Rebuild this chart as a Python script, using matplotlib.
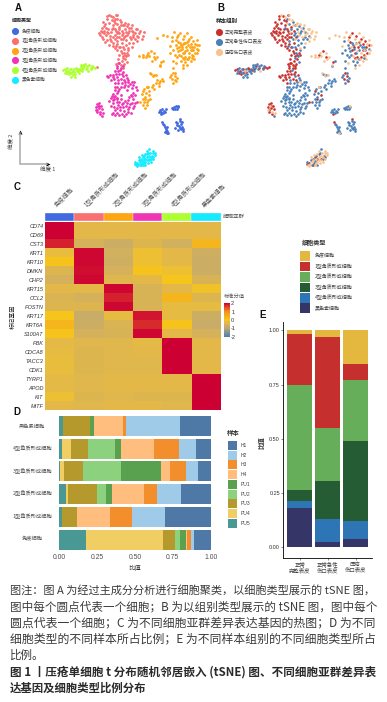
"""Composite figure: tSNE panels, marker heatmap, sample and cell-type proportions, caption."""

import matplotlib
matplotlib.use("Agg")
import matplotlib.pyplot as plt
import numpy as np
from matplotlib.colors import LinearSegmentedColormap
from matplotlib.patches import Rectangle

plt.rcParams["font.family"] = ["Noto Sans CJK SC", "DejaVu Sans"]

W, H = 387, 702
LATIN = ["Liberation Sans", "Noto Sans CJK SC"]

CELL_TYPES = ["免疫细胞", "1型角质形成细胞", "2型角质形成细胞", "3型角质形成细胞", "4型角质形成细胞", "黑色素细胞"]
CLUSTER_COLORS = ["#4169E1", "#FA7070", "#FFA50F", "#F035B4", "#ADFF2F", "#14EBFF"]
GROUPS = ["正常完整表皮", "正常急性伤口表皮", "压疮伤口表皮"]
GROUP_COLORS = ["#C9302C", "#4A80B8", "#F9C28C"]

# tSNE coordinates, one list per cell type and sample group
immune_ctrl = [(482, 343), (487, 366), (540, 357)]
immune_acute = [(480, 330), (486, 326), (492, 332), (497, 328), (484, 336), (490, 338), (516, 323), (522, 320),
                (528, 318), (534, 322), (524, 326), (490, 372), (494, 380), (498, 386), (502, 392), (505, 400),
                (497, 392), (492, 376), (527, 366), (531, 376), (526, 385), (541, 362), (543, 372), (546, 380),
                (550, 388), (540, 384), (533, 390), (478, 336), (494, 336), (520, 326), (530, 326), (495, 396),
                (500, 382), (530, 368), (545, 366), (548, 392), (536, 378), (544, 388)]
immune_ulcer = [(535, 318), (500, 398)]

k1_ctrl = [(322, 48), (335, 60), (348, 46), (316, 72), (328, 70), (340, 74), (306, 97), (300, 105), (312, 92),
           (318, 106), (324, 88), (332, 96), (338, 110), (345, 86), (352, 100), (358, 82), (310, 118), (322, 120),
           (334, 124), (346, 118), (358, 112), (328, 135), (340, 138), (352, 132), (365, 92), (372, 112), (366, 128),
           (318, 84), (306, 84), (344, 104), (352, 150), (362, 152), (372, 148), (358, 165), (368, 168), (380, 158),
           (366, 182), (376, 176), (354, 178), (362, 196), (372, 192), (385, 165), (330, 108), (312, 100), (290, 200),
           (310, 65), (320, 58), (333, 48), (342, 62), (302, 92), (296, 100), (305, 110), (315, 125), (325, 100),
           (335, 88), (348, 92), (358, 100), (350, 110), (340, 128), (330, 118), (320, 95), (312, 78), (345, 145),
           (358, 140), (366, 158), (374, 165), (355, 190), (348, 192), (368, 205)]
k1_acute = [(352, 72), (362, 66), (375, 88), (384, 100), (392, 84), (398, 112), (378, 120), (365, 105), (350, 124),
            (400, 96), (388, 128), (370, 140), (378, 135), (360, 140), (372, 160), (380, 185), (345, 58), (338, 84),
            (410, 108), (395, 140), (358, 88), (368, 76), (380, 78), (388, 92), (370, 100), (392, 118), (404, 118),
            (375, 108), (362, 118), (348, 138), (385, 150), (378, 168), (368, 175)]
k1_ulcer = [(328, 45), (340, 52), (350, 44), (360, 60), (372, 75), (385, 72), (395, 76), (408, 88), (420, 92),
            (432, 96), (405, 100), (415, 110), (425, 118), (410, 122), (390, 112), (380, 104), (400, 130), (385, 145),
            (368, 118), (345, 70), (355, 96), (378, 95), (395, 92), (418, 100), (428, 108), (412, 88), (398, 104),
            (388, 85), (375, 68), (362, 74), (352, 58)]

k2_ctrl = [(540, 100), (552, 108), (566, 116), (578, 124), (530, 112), (558, 142), (572, 150), (585, 158), (548, 160),
           (566, 170), (440, 164), (452, 152), (462, 172), (482, 186), (520, 218), (526, 228), (516, 236), (528, 242),
           (436, 296), (446, 284), (430, 272), (545, 140), (560, 125), (572, 132), (582, 140), (535, 125), (590, 135),
           (555, 170), (540, 150), (575, 165), (548, 175)]
k2_acute = [(516, 124), (528, 136), (540, 128), (552, 130), (564, 134), (520, 150), (534, 152), (546, 146), (576, 140),
            (590, 146), (510, 160), (530, 172), (542, 182), (556, 186), (518, 182), (488, 182), (480, 198), (472, 240),
            (480, 244), (490, 242), (468, 250), (476, 258), (462, 266), (452, 222), (462, 226), (524, 218), (530, 234),
            (514, 226), (518, 248), (440, 260), (432, 268), (426, 282), (438, 278), (448, 272), (428, 298), (442, 306),
            (430, 316), (436, 324), (450, 296), (420, 306), (456, 262), (530, 145), (542, 135), (552, 158), (562, 150),
            (570, 142), (580, 150), (525, 165), (538, 165), (560, 178), (548, 195), (575, 175), (520, 205), (525, 240),
            (510, 232), (478, 250), (485, 236), (460, 256), (445, 300), (435, 290), (440, 315), (432, 305), (445, 262)]
k2_ulcer = [(522, 96), (534, 104), (548, 118), (560, 100), (574, 110), (590, 120), (598, 136), (594, 150), (580, 168),
            (572, 182), (562, 196), (550, 204), (568, 158), (556, 152), (544, 168), (528, 190), (510, 138), (418, 168),
            (428, 164), (438, 172), (448, 168), (456, 182), (466, 178), (462, 160), (480, 196), (450, 220), (458, 228),
            (468, 224), (490, 105), (502, 108), (470, 115), (442, 260), (555, 130), (565, 124), (548, 132), (585, 132),
            (590, 160), (575, 150), (565, 178), (538, 140), (552, 178), (582, 178), (430, 170), (445, 160), (470, 170),
            (515, 110), (528, 120)]

k3_ctrl = [(352, 198), (362, 205), (345, 212), (356, 222), (338, 225), (325, 232), (332, 240), (342, 238), (370, 215),
           (378, 225), (350, 232), (362, 236), (372, 240), (322, 228), (345, 248), (290, 312), (298, 310), (303, 318),
           (288, 322), (296, 325), (306, 328), (292, 335), (412, 305), (358, 190), (368, 198), (350, 205), (355, 212),
           (365, 222), (340, 232), (330, 225), (348, 222), (296, 318), (290, 330), (300, 342)]
k3_acute = [(360, 210), (355, 250), (365, 250), (375, 245), (385, 240), (395, 245), (403, 245), (352, 262), (345, 270),
            (338, 282), (332, 295), (345, 288), (355, 272), (362, 262), (372, 262), (385, 258), (395, 265), (400, 278),
            (392, 285), (398, 298), (385, 300), (375, 302), (362, 298), (350, 305), (340, 310), (355, 315), (365, 312),
            (378, 318), (390, 312), (405, 310), (398, 325), (385, 328), (372, 332), (360, 330), (350, 340), (335, 342),
            (345, 345), (365, 342), (378, 342), (392, 338), (352, 325), (362, 285), (408, 262), (338, 300), (305, 347),
            (380, 270), (350, 295), (370, 322), (342, 298), (388, 322), (358, 268), (350, 280), (342, 292), (368, 308),
            (380, 308), (395, 308), (402, 318), (388, 292), (396, 288), (360, 320), (345, 330), (338, 338), (358, 345),
            (372, 348), (385, 335), (405, 285), (410, 270), (345, 262), (375, 255), (390, 252), (355, 240), (368, 228),
            (380, 235), (400, 255), (352, 298), (358, 305), (335, 288), (328, 302), (332, 318), (342, 320)]
k3_ulcer = [(300, 335), (308, 340), (288, 330), (295, 318), (385, 246)]

k4_ctrl = [(195, 208), (205, 214), (214, 206), (222, 216), (228, 204), (240, 210), (252, 198), (262, 204), (278, 200),
           (285, 203), (208, 222), (200, 218), (216, 216), (232, 208), (246, 206), (272, 204), (190, 210)]
k4_acute = [(198, 214), (210, 208), (218, 226), (226, 222), (234, 212), (242, 202), (248, 196), (256, 192), (258, 208),
            (268, 196), (272, 208), (225, 232), (236, 218), (200, 205), (246, 214), (206, 215), (214, 220), (230, 214),
            (238, 206), (250, 204), (262, 198), (275, 198), (212, 230), (222, 208), (196, 218), (244, 196)]
k4_ulcer = [(220, 212), (264, 214)]

mel_ctrl = [(410, 490), (422, 494), (446, 478), (430, 470), (404, 492), (436, 476)]
mel_acute = [(404, 486), (416, 480), (428, 484), (436, 496), (440, 462), (448, 448), (456, 468), (424, 476), (420, 496),
             (444, 460), (452, 476), (460, 470), (432, 468), (426, 490)]
mel_ulcer = [(412, 498), (420, 486), (432, 478), (442, 472), (450, 458), (458, 460), (466, 466), (460, 476), (452, 486),
             (444, 490), (436, 486), (428, 494), (418, 472), (440, 454), (448, 468), (464, 458), (426, 464), (436, 462),
             (422, 480), (432, 490), (446, 480), (454, 470), (458, 452), (440, 480), (414, 492), (408, 494)]

TSNE_BY_TYPE = [
    [immune_ctrl, immune_acute, immune_ulcer],
    [k1_ctrl, k1_acute, k1_ulcer],
    [k2_ctrl, k2_acute, k2_ulcer],
    [k3_ctrl, k3_acute, k3_ulcer],
    [k4_ctrl, k4_acute, k4_ulcer],
    [mel_ctrl, mel_acute, mel_ulcer],
]

# heatmap
GENES = ["CD74", "CD69", "CST3", "KRT1", "KRT10", "DMKN", "CHP2", "KRT15", "CCL2", "POSTN", "KRT17", "KRT6A", "S100A7",
         "PBK", "CDCA8", "TACC3", "CDK1", "TYRP1", "APOD", "KIT", "MITF"]
heat_values = [
    [2.0, -.3, -.3, -.3, -.3, -.3],
    [2.0, -.3, -.3, -.3, -.3, -.3],
    [1.75, -.55, -.7, -.4, -.6, .3],
    [-.15, 1.95, -.6, -.1, -.3, -.65],
    [.05, 1.95, -.65, -.1, -.3, -.7],
    [-.4, 1.9, -.55, .05, -.1, -.7],
    [-.55, 1.95, -.35, -.3, 0, -.5],
    [-.3, -.3, 1.95, -.5, -.3, -.05],
    [-.45, -.55, 1.75, -.5, .3, -.4],
    [-.4, -.4, 1.95, -.5, -.2, -.2],
    [0, -.75, -.2, 1.85, -.2, -.7],
    [.3, -.7, -.45, 1.7, .05, -.75],
    [.05, -.55, -.5, 1.95, -.3, -.55],
    [-.25, -.35, -.35, -.25, 2.0, -.3],
    [-.2, -.4, -.35, -.3, 2.0, -.3],
    [-.15, -.4, -.35, -.35, 2.0, -.3],
    [-.15, -.4, -.35, -.35, 2.0, -.3],
    [-.25, -.35, -.3, -.3, -.3, 2.0],
    [-.25, -.35, -.3, -.3, -.3, 2.0],
    [-.1, -.4, -.35, -.4, -.4, 2.0],
    [-.3, -.35, -.3, -.3, -.35, 2.0],
]

# panel D, top row first, stacked left to right
SAMPLES = ["PU5", "PU4", "PU3", "PU2", "PU1", "H4", "H3", "H2", "H1"]
SAMPLE_COLORS = ["#499894", "#F1CE63", "#B6992D", "#8CD17D", "#59A14F", "#FFBE7D", "#F28E2B", "#A0CBE8", "#4E79A7"]
D_ROWS = ["黑色素细胞", "4型角质形成细胞", "3型角质形成细胞", "2型角质形成细胞", "1型角质形成细胞", "免疫细胞"]
d_melanocyte = [.024, 0, .18, 0, .024, .193, .022, .354, .203]
d_k4 = [.022, .055, .114, .176, .044, .213, .167, .11, .099]
d_k3 = [.008, .026, .125, .25, .262, .062, .103, .081, .083]
d_k2 = [.044, .015, .189, .062, .037, .213, .086, .156, .198]
d_k1 = [.02, 0, .099, 0, 0, .218, .141, .224, .298]
d_immune = [.178, .505, .081, .035, .035, .011, .026, .02, .109]

# panel E, stacked bottom to top
E_GROUPS = ["正常\n完整表皮", "正常急性\n伤口表皮", "压疮\n伤口表皮"]
E_TYPES = ["黑色素细胞", "4型角质形成细胞", "3型角质形成细胞", "2型角质形成细胞", "1型角质形成细胞", "免疫细胞"]
E_COLORS = ["#353568", "#2E75B6", "#265C33", "#66AE5A", "#C5302F", "#E4B83F"]
e_intact = [.181, .033, .052, .482, .237, .015]
e_acute = [.027, .105, .172, .244, .423, .029]
e_ulcer = [.04, .08, .37, .281, .072, .157]

CAPTION = [
    "图注：图 A 为经过主成分分析进行细胞聚类，以细胞类型展示的 tSNE 图，",
    "图中每个圆点代表一个细胞；B 为以组别类型展示的 tSNE 图，图中每个",
    "圆点代表一个细胞；C 为不同细胞亚群差异表达基因的热图；D 为不同",
    "细胞类型的不同样本所占比例；E 为不同样本组别的不同细胞类型所占",
]
CAPTION_END = "比例。"
TITLE = ["图 1 丨压疮单细胞 t 分布随机邻居嵌入 (tSNE) 图、不同细胞亚群差异表", "达基因及细胞类型比例分布"]


def px_axes(fig, x0, y0, x1, y1):
    """Axes placed by pixel box, y counted from the top of the image."""
    return fig.add_axes([x0 / W, 1 - y1 / H, (x1 - x0) / W, (y1 - y0) / H])


def draw_tsne_a(fig):
    ax = px_axes(fig, 0, 0, 200, 180)
    ax.set_xlim(0, 600)
    ax.set_ylim(540, 0)
    ax.axis("off")
    for groups, color in zip(TSNE_BY_TYPE, CLUSTER_COLORS):
        pts = np.array([p for g in groups for p in g])
        ax.scatter(pts[:, 0], pts[:, 1], s=4, color=color, linewidths=0)


def draw_tsne_b(fig):
    ax = px_axes(fig, 172, 0, 372, 180)
    ax.set_xlim(0, 600)
    ax.set_ylim(540, 0)
    ax.axis("off")
    for groups in TSNE_BY_TYPE:
        for g, color in zip(groups, GROUP_COLORS):
            pts = np.array(g)
            ax.scatter(pts[:, 0], pts[:, 1], s=3.6, color=color, linewidths=0)


def draw_heatmap(fig, over):
    cmap = LinearSegmentedColormap.from_list(
        "score",
        [(0, "#4A7FB5"), (.25, "#B8A67A"), (.42, "#E3B84A"), (.46, "#E8BC40"), (.5, "#F6C61C"), (.75, "#F39020"),
         (1, "#CC0033")],
    )
    bar = px_axes(fig, 45, 212.5, 220.7, 220.5)
    bar.set_xlim(0, 6)
    bar.set_ylim(0, 1)
    bar.axis("off")
    for i, color in enumerate(CLUSTER_COLORS):
        bar.add_patch(Rectangle((i, 0), 1, 1, facecolor=color, edgecolor="#e8e8e8", linewidth=.3))

    ax = px_axes(fig, 45, 221.7, 220.7, 410.3)
    im = ax.imshow(heat_values, cmap=cmap, vmin=-2, vmax=2, aspect="auto", interpolation="nearest")
    ax.set_xticks([])
    ax.set_yticks(range(len(GENES)))
    ax.set_yticklabels(GENES, fontsize=4, style="italic", family=LATIN, color="#333333")
    ax.tick_params(axis="y", length=0, pad=1.2)
    for s in ax.spines.values():
        s.set_visible(False)

    for i, label in enumerate(CELL_TYPES):
        over.text(59 + i * 29.3, 209, label, rotation=45, ha="left", va="bottom", fontsize=4.4,
                  color="#555555", rotation_mode="anchor")
    over.text(222.5, 216.5, "细胞亚群", fontsize=4, va="center", color="#555555")
    over.text(13, 317, "标记基因", fontsize=4.4, rotation=90, ha="center", va="center", color="#222222")
    over.text(224, 296, "标准分值", fontsize=3.8, va="center", color="#555555")

    cax = px_axes(fig, 224, 303, 230, 337)
    cb = fig.colorbar(im, cax=cax, ticks=[2, 1, 0, -1, -2])
    cb.outline.set_visible(False)
    cb.ax.set_yticklabels(["2", "1", "0", "-1", "-2"], family=LATIN)
    cb.ax.tick_params(labelsize=4, length=0, pad=.8, colors="#333333")


def draw_sample_bars(fig, over):
    ax = px_axes(fig, 59, 414.5, 210.7, 551)
    rows = [d_melanocyte, d_k4, d_k3, d_k2, d_k1, d_immune]
    for i, row in enumerate(rows):
        left = 0
        for val, color in zip(row, SAMPLE_COLORS):
            ax.barh(i, val, left=left, height=.89, color=color, linewidth=0)
            left += val
    ax.set_xlim(0, 1)
    ax.set_ylim(5.5, -.5)
    ax.set_xticks([0, .25, .5, .75, 1])
    ax.set_xticklabels(["0.00", "0.25", "0.50", "0.75", "1.00"], fontsize=4.9, family=LATIN, color="#4d4d4d")
    ax.set_yticks([])
    ax.tick_params(axis="x", length=0, pad=2.5)
    for s in ax.spines.values():
        s.set_visible(False)
    for i, label in enumerate(D_ROWS):
        over.text(32.3, 426 + i * 22.6, label, fontsize=3.8, ha="center", va="center", color="#555555")
    over.text(135, 568, "比值", fontsize=4.6, ha="center", va="center", color="#333333")

    over.text(233.5, 433, "样本", fontsize=4.6, ha="center", va="center", weight="bold", color="#333333")
    for i, (name, color) in enumerate(zip(SAMPLES[::-1], SAMPLE_COLORS[::-1])):
        over.add_patch(Rectangle((228, 441 + i * 9.7), 9.2, 9, facecolor=color, linewidth=0))
        over.text(241, 445.5 + i * 9.7, name, fontsize=3.6, va="center", family=LATIN, color="#444444")


def draw_type_bars(fig, over):
    ax = px_axes(fig, 283.3, 321.7, 371.7, 558.3)
    bars = [e_intact, e_acute, e_ulcer]
    for i, col in enumerate(bars):
        bottom = 0
        for val, color in zip(col, E_COLORS):
            ax.bar(i + 1, val, bottom=bottom, width=.9, color=color, linewidth=0)
            bottom += val
    ax.set_xlim(.4, 3.58)
    ax.set_ylim(-.05, 1.04)
    ax.set_yticks([0, .25, .5, .75, 1])
    ax.set_yticklabels(["0.00", "0.25", "0.50", "0.75", "1.00"], fontsize=4, family=LATIN, color="#333333")
    ax.set_xticks([1, 2, 3])
    ax.set_xticklabels(E_GROUPS, fontsize=3.9, color="#444444", linespacing=1.05)
    ax.tick_params(length=1.2, width=.4, pad=1.2, color="#333333")
    ax.spines["top"].set_visible(False)
    ax.spines["right"].set_visible(False)
    ax.spines["left"].set_linewidth(.6)
    ax.spines["bottom"].set_linewidth(.6)
    over.text(261, 443, "比值", fontsize=4.6, rotation=90, ha="center", va="center", weight="bold", color="#333333")

    over.text(314, 242, "细胞类型", fontsize=4.4, ha="center", va="center", weight="bold", color="#333333")
    for i, (name, color) in enumerate(zip(E_TYPES[::-1], E_COLORS[::-1])):
        over.add_patch(Rectangle((300, 251.3 + i * 10.4), 10, 9.6, facecolor=color, linewidth=0))
        over.text(315, 256 + i * 10.4, name, fontsize=3.6, va="center", color="#444444")


def draw_annotations(over):
    for label, x, y in [("A", 18, 8), ("B", 221, 8), ("C", 17, 187), ("D", 17, 412), ("E", 263, 315)]:
        over.text(x, y, label, fontsize=7, weight="bold", family=LATIN, ha="center", va="center", color="#111111")

    over.text(12, 20, "细胞类型", fontsize=3.6, weight="bold", va="center", color="#222222")
    for i, (name, color) in enumerate(zip(CELL_TYPES, CLUSTER_COLORS)):
        y = 31 + i * 9.8
        over.scatter(15, y, s=26, color=color, linewidths=0)
        over.text(22, y, name, fontsize=3.4, va="center", color="#444444")

    over.text(216, 21, "样本组别", fontsize=4, weight="bold", va="center", color="#222222")
    for i, (name, color) in enumerate(zip(GROUPS, GROUP_COLORS)):
        y = 32 + i * 10
        over.scatter(219, y, s=26, color=color, linewidths=0)
        over.text(225, y, name, fontsize=3.4, va="center", color="#444444")

    over.plot([20, 20, 47], [133, 163.5, 163.5], color="#aaaaaa", linewidth=1.1, solid_joinstyle="miter")
    over.scatter([20], [132], marker="^", s=8, color="black", linewidths=0)
    over.scatter([48], [163.5], marker=">", s=8, color="black", linewidths=0)
    over.text(12, 141, "维度 2", fontsize=4, rotation=90, ha="center", va="center", color="#444444")
    over.text(48, 170, "维度 1", fontsize=4, ha="center", va="center", color="#444444")


def fit_width(fig, text, width):
    """Scale a caption line so it fills the justified column width."""
    extent = text.get_window_extent(fig.canvas.get_renderer())
    text.set_fontsize(text.get_fontsize() * width / extent.width)


def draw_caption(fig, over):
    for i, line in enumerate(CAPTION):
        t = over.text(10, 590.7 + i * 16.1, line, fontsize=8.2, va="center", color="#3a3a3a")
        fit_width(fig, t, 365)
    over.text(10, 655, CAPTION_END, fontsize=8.3, va="center", color="#3a3a3a")
    t = over.text(10, 672, TITLE[0], fontsize=8.2, va="center", color="#2a2a2a", weight="bold")
    fit_width(fig, t, 365)
    over.text(10, 688, TITLE[1], fontsize=8.2, va="center", color="#2a2a2a", weight="bold")


def main():
    fig = plt.figure(figsize=(W / 100, H / 100), dpi=100, facecolor="white")
    over = fig.add_axes([0, 0, 1, 1], zorder=5)
    over.set_xlim(0, W)
    over.set_ylim(H, 0)
    over.axis("off")

    draw_tsne_a(fig)
    draw_tsne_b(fig)
    draw_heatmap(fig, over)
    draw_sample_bars(fig, over)
    draw_type_bars(fig, over)
    draw_annotations(over)
    draw_caption(fig, over)

    fig.savefig("out.png", dpi=100)
    plt.close(fig)


if __name__ == "__main__":
    main()
